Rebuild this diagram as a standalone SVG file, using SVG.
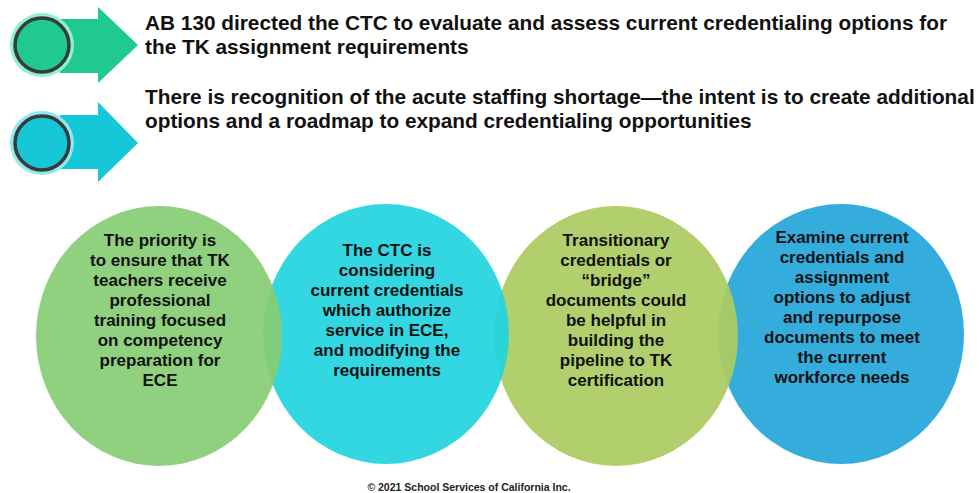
<svg xmlns="http://www.w3.org/2000/svg" width="979" height="493" viewBox="0 0 979 493">
<style>
.hd{font-family:"Liberation Sans",Arial,sans-serif;font-weight:bold;font-size:20.8px;fill:#111}
.ct{font-family:"Liberation Sans",Arial,sans-serif;font-weight:bold;font-size:17px;fill:#111;text-anchor:middle}
.ft{font-family:"Liberation Sans",Arial,sans-serif;font-weight:bold;font-size:10.5px;fill:#222;text-anchor:middle}
.ring{stroke:#3a3a3a;stroke-width:3.5}
.bub{fill-opacity:0.93}
</style>
<rect width="979" height="493" fill="#ffffff"/>
<g id="arrow1">
<path d="M60 19 H98 V7 L138 45 L98 83 V73 H60 Z" fill="#1fc98f"/>
<circle cx="42" cy="45" r="32" fill="#8ff0d3"/>
<circle cx="42" cy="45" r="27" class="ring" fill="#1fc98f"/>
<text class="hd" x="145" y="30">AB 130 directed the CTC to evaluate and assess current credentialing options for</text>
<text class="hd" x="145" y="54">the TK assignment requirements</text>
</g>
<g id="arrow2">
<path d="M60 115 H98 V102 L138 143 L98 182 V169 H60 Z" fill="#15c7d7"/>
<circle cx="42" cy="143" r="32" fill="#8fe9f1"/>
<circle cx="42" cy="143" r="27" class="ring" fill="#15c7d7"/>
<text class="hd" x="145" y="104">There is recognition of the acute staffing shortage—the intent is to create additional</text>
<text class="hd" x="145" y="128">options and a roadmap to expand credentialing opportunities</text>
</g>
<g id="c4">
<ellipse class="bub" cx="841" cy="334" rx="123" ry="130" fill="#25a7da"/>
<text class="ct" x="842" y="243">Examine current</text>
<text class="ct" x="842" y="263">credentials and</text>
<text class="ct" x="842" y="283">assignment</text>
<text class="ct" x="842" y="303">options to adjust</text>
<text class="ct" x="842" y="323">and repurpose</text>
<text class="ct" x="842" y="343">documents to meet</text>
<text class="ct" x="842" y="363">the current</text>
<text class="ct" x="842" y="383">workforce needs</text>
</g>
<g id="c3">
<ellipse class="bub" cx="616" cy="336" rx="122" ry="130" fill="#accb62"/>
<text class="ct" x="616" y="246">Transitionary</text>
<text class="ct" x="616" y="266">credentials or</text>
<text class="ct" x="616" y="286">“bridge”</text>
<text class="ct" x="616" y="306">documents could</text>
<text class="ct" x="616" y="326">be helpful in</text>
<text class="ct" x="616" y="346">building the</text>
<text class="ct" x="616" y="366">pipeline to TK</text>
<text class="ct" x="616" y="386">certification</text>
</g>
<g id="c2">
<ellipse class="bub" cx="386" cy="334" rx="123" ry="130" fill="#22d4df"/>
<text class="ct" x="387" y="256">The CTC is</text>
<text class="ct" x="387" y="276">considering</text>
<text class="ct" x="387" y="296">current credentials</text>
<text class="ct" x="387" y="316">which authorize</text>
<text class="ct" x="387" y="336">service in ECE,</text>
<text class="ct" x="387" y="356">and modifying the</text>
<text class="ct" x="387" y="376">requirements</text>
</g>
<g id="c1">
<ellipse class="bub" cx="159" cy="336" rx="123" ry="130" fill="#86ce74"/>
<text class="ct" x="160" y="246">The priority is</text>
<text class="ct" x="160" y="266">to ensure that TK</text>
<text class="ct" x="160" y="286">teachers receive</text>
<text class="ct" x="160" y="306">professional</text>
<text class="ct" x="160" y="326">training focused</text>
<text class="ct" x="160" y="346">on competency</text>
<text class="ct" x="160" y="366">preparation for</text>
<text class="ct" x="160" y="386">ECE</text>
</g>
<g id="connectors"></g>
<text class="ft" x="469" y="491">© 2021 School Services of California Inc.</text>
</svg>
